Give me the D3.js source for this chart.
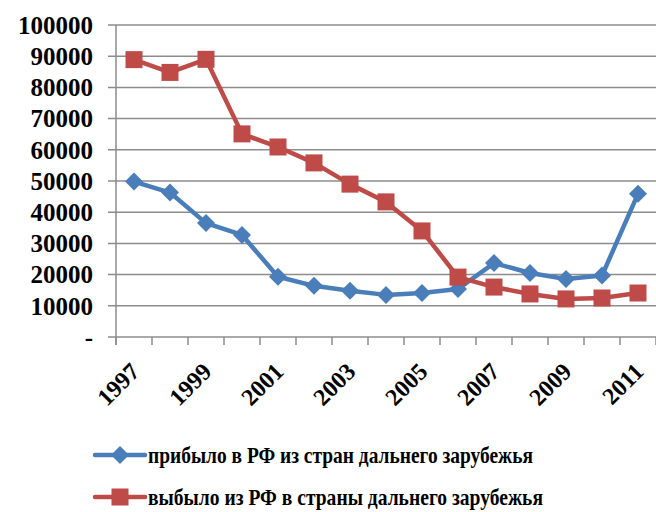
<!DOCTYPE html>
<html>
<head>
<meta charset="utf-8">
<script src="https://cdn.jsdelivr.net/npm/d3@7"></script>
<style>
  body { margin: 0; background: #fff; }
</style>
</head>
<body>
<div id="chart-area"></div>
<script>
var years = ["1997", "1998", "1999", "2000", "2001", "2002", "2003", "2004", "2005", "2006", "2007", "2008", "2009", "2010", "2011"];
var arrived = [49800, 46300, 36500, 32700, 19300, 16400, 14800, 13500, 14100, 15400, 23700, 20500, 18600, 19700, 45900];
var departed = [88900, 84800, 89000, 65100, 60900, 55800, 49000, 43300, 34000, 19200, 16000, 13800, 12200, 12500, 14100];
var yTicks = [0, 10000, 20000, 30000, 40000, 50000, 60000, 70000, 80000, 90000, 100000];
var seriesNames = ["прибыло в РФ из стран дальнего зарубежья", "выбыло из РФ в страны дальнего зарубежья"];

var font = "'Liberation Serif', 'Times New Roman', serif";

var svg = d3.select("#chart-area")
  .append("svg")
  .attr("width", 656)
  .attr("height", 512)
  .style("font-family", font)
  .style("font-weight", "bold");

var plotLeft = 116, plotRight = 656, plotTop = 25, plotBottom = 337;

var x = d3.scaleBand()
  .domain(years)
  .range([plotLeft, plotRight]);

var y = d3.scaleLinear()
  .domain([0, 100000])
  .range([plotBottom, plotTop]);

var grid = "#8c8c8c";

// horizontal gridlines + y ticks
svg.selectAll("line.grid")
  .data(yTicks)
  .enter()
  .append("line")
  .attr("x1", plotLeft - 8)
  .attr("x2", plotRight)
  .attr("y1", function(d) { return y(d); })
  .attr("y2", function(d) { return y(d); })
  .attr("stroke", grid)
  .attr("stroke-width", 1.5);

// y axis line
svg.append("line")
  .attr("x1", plotLeft).attr("x2", plotLeft)
  .attr("y1", plotTop).attr("y2", plotBottom + 8)
  .attr("stroke", grid)
  .attr("stroke-width", 1.5);

svg.selectAll("text.ylab")
  .data(yTicks)
  .enter()
  .append("text")
  .attr("x", 93)
  .attr("y", function(d) { return y(d); })
  .attr("dy", "0.35em")
  .attr("text-anchor", "end")
  .style("font-size", "25px")
  .text(function(d) { return d === 0 ? "-" : d; });

// x tick marks between categories
var bounds = years.map(function(d) { return x(d); }).concat([plotRight]);
svg.selectAll("line.xtick")
  .data(bounds)
  .enter()
  .append("line")
  .attr("x1", function(d) { return d; })
  .attr("x2", function(d) { return d; })
  .attr("y1", plotBottom)
  .attr("y2", plotBottom + 8)
  .attr("stroke", grid)
  .attr("stroke-width", 1.5);

svg.selectAll("text.xlab")
  .data(years.filter(function(d, i) { return i % 2 === 0; }))
  .enter()
  .append("text")
  .attr("transform", function(d) {
    return "translate(" + (x(d) + x.bandwidth() / 2 + 7) + "," + (plotBottom + 36) + ") rotate(-45)";
  })
  .attr("text-anchor", "end")
  .style("font-size", "24px")
  .text(function(d) { return d; });

var cx = function(d, i) { return x(years[i]) + x.bandwidth() / 2; };
var line = d3.line()
  .x(cx)
  .y(function(d) { return y(d); });

var blue = "#4a7ebb", red = "#be4b48";

svg.append("path")
  .datum(arrived)
  .attr("d", line)
  .attr("fill", "none")
  .attr("stroke", blue)
  .attr("stroke-width", 4.5)
  .attr("stroke-linejoin", "round");

svg.append("path")
  .datum(departed)
  .attr("d", line)
  .attr("fill", "none")
  .attr("stroke", red)
  .attr("stroke-width", 4.5)
  .attr("stroke-linejoin", "round");

var diamond = "M0,-9L9,0L0,9L-9,0Z";

svg.selectAll("path.dia")
  .data(arrived)
  .enter()
  .append("path")
  .attr("d", diamond)
  .attr("transform", function(d, i) { return "translate(" + cx(d, i) + "," + y(d) + ")"; })
  .attr("fill", blue);

svg.selectAll("rect.sq")
  .data(departed)
  .enter()
  .append("rect")
  .attr("x", function(d, i) { return cx(d, i) - 8.5; })
  .attr("y", function(d) { return y(d) - 8.5; })
  .attr("width", 17)
  .attr("height", 17)
  .attr("fill", red);

// legend
var legend = [
  { name: seriesNames[0], color: blue, y: 455, w: 385 },
  { name: seriesNames[1], color: red, y: 497, w: 395 }
];

var lg = svg.selectAll("g.legend")
  .data(legend)
  .enter()
  .append("g")
  .attr("transform", function(d) { return "translate(0," + d.y + ")"; });

lg.append("line")
  .attr("x1", 95).attr("x2", 145)
  .attr("y1", 0).attr("y2", 0)
  .attr("stroke", function(d) { return d.color; })
  .attr("stroke-width", 4.5)
  .attr("stroke-linecap", "round");

lg.filter(function(d, i) { return i === 0; })
  .append("path")
  .attr("d", diamond)
  .attr("transform", "translate(120,0)")
  .attr("fill", blue);

lg.filter(function(d, i) { return i === 1; })
  .append("rect")
  .attr("x", 111.5).attr("y", -8.5)
  .attr("width", 17).attr("height", 17)
  .attr("fill", red);

lg.append("text")
  .attr("x", 148)
  .attr("y", 0)
  .attr("dy", "0.35em")
  .attr("textLength", function(d) { return d.w; })
  .attr("lengthAdjust", "spacingAndGlyphs")
  .style("font-size", "23px")
  .text(function(d) { return d.name; });
</script>
</body>
</html>
